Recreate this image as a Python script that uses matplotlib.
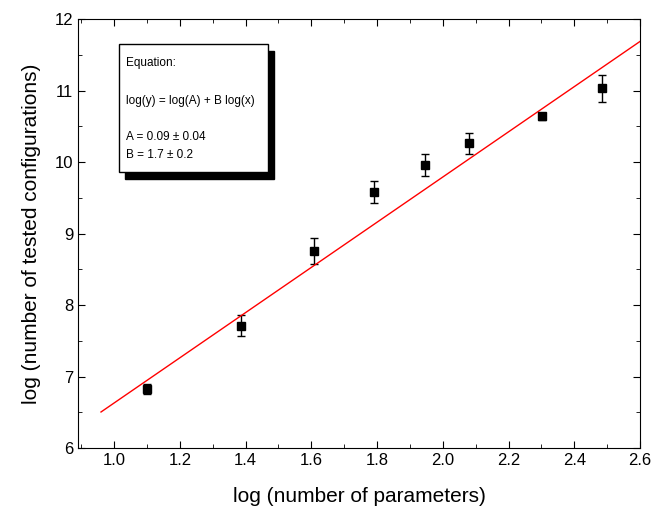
import numpy as np
import matplotlib.pyplot as plt
from matplotlib.patches import Rectangle

plt.rcParams['font.family'] = ['Liberation Sans', 'DejaVu Sans']

x = [1.099, 1.386, 1.609, 1.792, 1.946, 2.079, 2.303, 2.485]
y = [6.82, 7.71, 8.76, 9.58, 9.96, 10.26, 10.64, 11.03]
yerr = [0.07, 0.15, 0.18, 0.15, 0.15, 0.15, 0.05, 0.19]
fit_a = 3.47
fit_b = 3.16
fit_x = [0.96, 2.6]

fig = plt.figure(figsize=(6.64, 5.11), dpi=100)
ax = fig.add_axes([78/664, 1-448/511, (640-78)/664, (448-19)/511])
ax.errorbar(x, y, yerr=yerr, fmt='s', color='black', ms=6, capsize=3, elinewidth=1, capthick=1)
fx = np.array(fit_x)
ax.plot(fx, fit_a + fit_b*fx, color='red', lw=1)
ax.set_xlim(0.89, 2.6)
ax.set_ylim(6, 12)
ax.set_xticks(np.arange(1.0, 2.61, 0.2))
ax.set_xticks(np.arange(0.9, 2.61, 0.1), minor=True)
ax.set_yticks(range(6, 13))
ax.set_yticks(np.arange(6, 12.01, 0.5), minor=True)
ax.tick_params(which='both', direction='in', top=True, right=True, labelsize=12)
ax.tick_params(which='major', length=5)
ax.tick_params(which='minor', length=3)
ax.set_xlabel('log (number of parameters)', fontsize=15, labelpad=14)
ax.set_ylabel('log (number of tested configurations)', fontsize=15, labelpad=10)

# equation box with shadow
bx, by, bw, bh = 119, 44, 149, 128
shadow = Rectangle(((bx+6)/664, 1-(by+bh+7)/511), bw/664, bh/511, transform=fig.transFigure,
                   facecolor='black', edgecolor='black')
box = Rectangle((bx/664, 1-(by+bh)/511), bw/664, bh/511, transform=fig.transFigure,
                facecolor='white', edgecolor='black', lw=1)
fig.patches.extend([shadow, box])
fs = 8.5
fig.text((bx+7)/664, 1-63/511, 'Equation:', fontsize=fs, va='center')
fig.text((bx+7)/664, 1-101/511, 'log(y) = log(A) + B log(x)', fontsize=fs, va='center')
fig.text((bx+7)/664, 1-137/511, 'A = 0.09 \u00b1 0.04', fontsize=fs, va='center')
fig.text((bx+7)/664, 1-155/511, 'B = 1.7 \u00b1 0.2', fontsize=fs, va='center')

fig.savefig('out.png', dpi=100)
